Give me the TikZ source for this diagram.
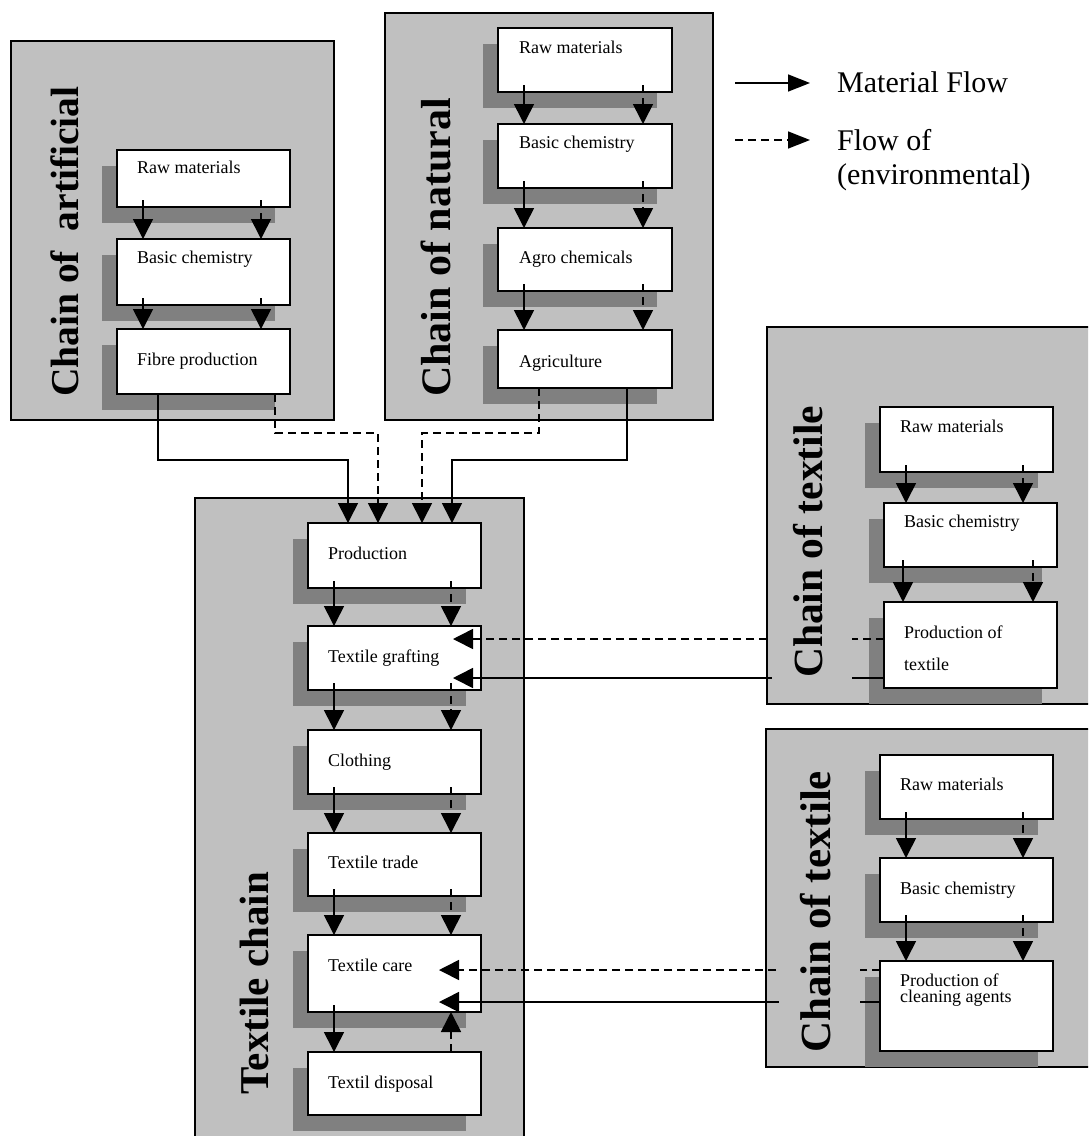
\documentclass[tikz,border=0pt]{standalone}
\usepackage{fontspec}
\setmainfont{Liberation Serif}
\usetikzlibrary{arrows.meta,calc}
\definecolor{outergray}{RGB}{192,192,192}
\definecolor{shadowgray}{RGB}{128,128,128}
\newcommand\shbox[6]{% name, x, y, w, h
  \fill[shadowgray] (#2-15,#3+16) rectangle ++(#4,#5);
  \node[whitebox, minimum width=#4pt, minimum height=#5pt] (#1) at (#2,#3) {};
}
\newcommand\chainarr[4]{% from, to, solid dx, dashed dx
  \draw[matflow] ($(#1.south west)+(#3,-7)$) -- ($(#1.south west |- #2.north)+(#3,0)$);
  \draw[envflow] ($(#1.south west)+(#4,-7)$) -- ($(#1.south west |- #2.north)+(#4,0)$);
}
\begin{document}
\begin{tikzpicture}[x=1pt,y=-1pt,
  chainbox/.style={draw=black, line width=1.8pt, fill=outergray},
  whitebox/.style={draw=black, line width=1.8pt, fill=white, anchor=north west, inner sep=0pt, outer sep=0pt},
  boxtext/.style={anchor=base west, inner sep=0pt, font=\fontsize{18}{20}\selectfont},
  titletext/.style={rotate=90, anchor=base west, inner sep=0pt, font=\fontsize{#1}{45}\selectfont\bfseries},
  titletext/.default=41,
  masktitle/.style={titletext=#1, fill=outergray, inner xsep=10pt, inner ysep=21pt, text depth=9pt},
  masktitle/.default=41,
  legtext/.style={anchor=base west, inner sep=0pt, font=\fontsize{30}{35}\selectfont},
  matflow/.style={line width=1.6pt, -{Triangle[length=20pt,width=20pt]}},
  envflow/.style={matflow, dash pattern=on 8pt off 5pt},
]
\useasboundingbox (0,0) rectangle (1088,1136);
\clip (0,0) rectangle (1088,1136);
\fill[white] (0,0) rectangle (1088,1136);

% outer chain boxes
\draw[chainbox] (11,41) rectangle (334,420);
\draw[chainbox] (385,13) rectangle (713,420);
\draw[chainbox] (195,498) rectangle (524,1160);
\draw[chainbox] (767,327) rectangle (1110,704);
\draw[chainbox] (766,729) rectangle (1110,1067);

% chain of artificial
\shbox{a1}{117}{150}{173}{57}{}
\shbox{a2}{117}{239}{173}{66}{}
\shbox{a3}{117}{329}{173}{65}{}
\node[boxtext] (a1t) at ($(a1.north west)+(20,23)$) {Raw materials};
\node[boxtext] (a2t) at ($(a2.north west)+(20,24)$) {Basic chemistry};
\node[boxtext] (a3t) at ($(a3.north west)+(20,36)$) {Fibre production};
\chainarr{a1}{a2}{26}{144}
\chainarr{a2}{a3}{26}{144}
\node[titletext=39.5] (tart) at (78,397) {Chain of~ artificial};

% chain of natural
\shbox{n1}{498}{28}{174}{64}{}
\shbox{n2}{498}{124}{174}{64}{}
\shbox{n3}{498}{228}{174}{63}{}
\shbox{n4}{498}{330}{174}{58}{}
\node[boxtext] (n1t) at ($(n1.north west)+(21,25)$) {Raw materials};
\node[boxtext] (n2t) at ($(n2.north west)+(21,24)$) {Basic chemistry};
\node[boxtext] (n3t) at ($(n3.north west)+(21,35)$) {Agro chemicals};
\node[boxtext] (n4t) at ($(n4.north west)+(21,37)$) {Agriculture};
\chainarr{n1}{n2}{26}{145}
\chainarr{n2}{n3}{26}{145}
\chainarr{n3}{n4}{26}{145}
\node[titletext=42] (tnat) at (450,397) {Chain of natural};

% textile chain
\shbox{t1}{308}{523}{173}{65}{}
\shbox{t2}{308}{626}{173}{64}{}
\shbox{t3}{308}{730}{173}{64}{}
\shbox{t4}{308}{833}{173}{63}{}
\shbox{t5}{308}{935}{173}{77}{}
\shbox{t6}{308}{1052}{173}{63}{}
\node[boxtext] (t1t) at ($(t1.north west)+(20,36)$) {Production};
\node[boxtext] (t2t) at ($(t2.north west)+(20,36)$) {Textile grafting};
\node[boxtext] (t3t) at ($(t3.north west)+(20,36)$) {Clothing};
\node[boxtext] (t4t) at ($(t4.north west)+(20,35)$) {Textile trade};
\node[boxtext] (t5t) at ($(t5.north west)+(20,36)$) {Textile care};
\node[boxtext] (t6t) at ($(t6.north west)+(20,36)$) {Textil disposal};
\chainarr{t1}{t2}{26}{143}
\chainarr{t2}{t3}{26}{143}
\chainarr{t3}{t4}{26}{143}
\chainarr{t4}{t5}{26}{143}
\draw[matflow] ($(t5.south west)+(26,-7)$) -- ($(t5.south west |- t6.north)+(26,0)$);
\draw[envflow] ($(t5.south west |- t6.north)+(143,0)$) -- ($(t5.south west)+(143,0)$);
\node[titletext] (ttex) at (268,1095) {Textile chain};

% chain of textile (upper)
\shbox{d1}{880}{407}{173}{65}{}
\shbox{d2}{884}{503}{173}{64}{}
\shbox{d3}{884}{602}{173}{86}{}
\node[boxtext] (d1t) at ($(d1.north west)+(20,25)$) {Raw materials};
\node[boxtext] (d2t) at ($(d2.north west)+(20,24)$) {Basic chemistry};
\node[boxtext] (d3t) at ($(d3.north west)+(20,36)$) {Production of};
\node[boxtext] (d3u) at ($(d3.north west)+(20,68)$) {textile};
\draw[matflow] ($(d1.south west)+(26,-7)$) -- ($(d1.south west |- d2.north)+(26,0)$);
\draw[envflow] ($(d1.south west)+(143,-7)$) -- ($(d1.south west |- d2.north)+(143,0)$);
\chainarr{d2}{d3}{19}{149}

% chain of textile (lower)
\shbox{c1}{880}{755}{173}{64}{}
\shbox{c2}{880}{858}{173}{64}{}
\shbox{c3}{880}{961}{173}{90}{}
\node[boxtext] (c1t) at ($(c1.north west)+(20,35)$) {Raw materials};
\node[boxtext] (c2t) at ($(c2.north west)+(20,36)$) {Basic chemistry};
\node[boxtext] (c3t) at ($(c3.north west)+(20,25)$) {Production of};
\node[boxtext] (c3u) at ($(c3.north west)+(20,41)$) {cleaning agents};
\chainarr{c1}{c2}{26}{143}
\chainarr{c2}{c3}{26}{143}

% flows into production
\draw[matflow] ($(a3.south west)+(41,0)$) |- ($(t1.north west)+(40,-63)$) -- ($(t1.north west)+(40,0)$);
\draw[envflow] ($(a3.south west)+(158,0)$) |- ($(t1.north west)+(70,-90)$) -- ($(t1.north west)+(70,0)$);
\draw[envflow] ($(n4.south west)+(41,0)$) |- ($(t1.north west)+(114,-90)$) -- ($(t1.north west)+(114,0)$);
\draw[matflow] ($(n4.south west)+(129,0)$) |- ($(t1.north west)+(144,-63)$) -- ($(t1.north west)+(144,0)$);

% flows from the side chains
\draw[envflow] ($(d3.north west)+(0,37)$) -- ($(t2.north west)+(145,13)$);
\draw[matflow] ($(d3.north west)+(0,76)$) -- ($(t2.north west)+(145,52)$);
\draw[envflow] ($(c3.north west)+(0,9)$) -- ($(t5.north west)+(131,35)$);
\draw[matflow] ($(c3.north west)+(0,41)$) -- ($(t5.north west)+(131,67)$);

% titles that cover the flow lines
\node[masktitle=41.5] (ttxa) at (822,688) {Chain of textile};
\node[masktitle=43] (ttxb) at (830,1063) {Chain of textile};

% legend
\coordinate (l1s) at (735,83);
\coordinate (l1e) at (810,83);
\coordinate (l2s) at (735,140);
\coordinate (l2e) at (810,140);
\draw[matflow, -{Triangle[length=22pt,width=17pt]}] (l1s) -- (l1e);
\draw[envflow, -{Triangle[length=22pt,width=17pt]}] (l2s) -- (l2e);
\node[legtext] (leg1) at (837,92) {Material Flow};
\node[legtext] (leg2) at (837,150) {Flow of};
\node[legtext] (leg3) at (837,184) {(environmental)};
\end{tikzpicture}
\end{document}
